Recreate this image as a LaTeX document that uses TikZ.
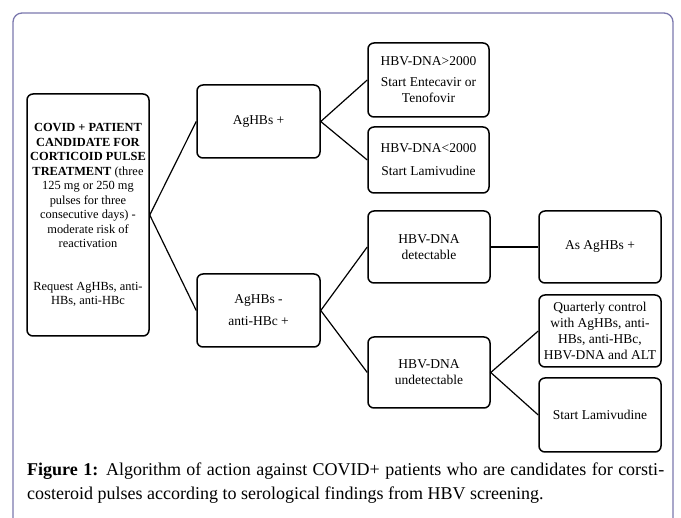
\documentclass[tikz,border=0pt]{standalone}
\usepackage{fontspec}
\setmainfont{Liberation Serif}
\definecolor{framecol}{HTML}{7B78AE}
\begin{document}
\begin{tikzpicture}[x=1pt,y=-1pt,
  box/.style={draw=black, line width=1.5pt, rounded corners=6pt, align=center, inner sep=1pt, font=\fontsize{13.5}{16}\selectfont},
  conn/.style={draw=black, line width=1.2pt},
  frame/.style={draw=framecol, line width=1.3pt, rounded corners=9pt},
  captext/.style={anchor=base west, inner sep=0pt, font=\fontsize{18}{24}\selectfont}]
\useasboundingbox (0,0) rectangle (681,518);
\fill[white] (0,0) rectangle (681,518);
\draw[frame] (13,518) -- (13,13) -- (673,13) -- (673,518);

\node[box, minimum width=122pt, minimum height=242pt, font=\fontsize{12.4}{14.5}\selectfont] (main) at (88,215)
 {\textbf{COVID + PATIENT}\\ \textbf{CANDIDATE FOR}\\ \textbf{CORTICOID PULSE}\\ \textbf{TREATMENT} (three\\ 125 mg or 250 mg\\ pulses for three\\ consecutive days) -\\ moderate risk of\\ reactivation\\[28pt] Request AgHBs, anti-\\ HBs, anti-HBc};

\node[box, minimum width=123pt, minimum height=73pt] (pos) at (258.5,121.5) {AgHBs +};
\node[box, minimum width=123pt, minimum height=73pt] (neg) at (258.5,310.5) {AgHBs -\\[6pt] anti-HBc +};

\node[box, minimum width=121pt, minimum height=74pt] (hi) at (428.5,80) {HBV-DNA>2000\\[5pt] Start Entecavir or\\ Tenofovir};
\node[box, minimum width=121pt, minimum height=66pt] (lo) at (428.5,160) {HBV-DNA<2000\\[7pt] Start Lamivudine};

\node[box, minimum width=122pt, minimum height=72pt] (det) at (429,247) {HBV-DNA\\ detectable};
\node[box, minimum width=122pt, minimum height=71pt] (undet) at (429,372.5) {HBV-DNA\\ undetectable};

\node[box, minimum width=122pt, minimum height=72pt] (as) at (600,247) {As AgHBs +};
\node[box, minimum width=122pt, minimum height=72pt] (quart) at (600,331) {Quarterly control\\ with AgHBs, anti-\\ HBs, anti-HBc,\\ HBV-DNA and ALT};
\node[box, minimum width=122pt, minimum height=74pt] (lam) at (600,415) {Start Lamivudine};

\draw[conn] (pos.west) -- (main.east) -- (neg.west);
\draw[conn] (hi.west) -- (pos.east) -- (lo.west);
\draw[conn] (det.west) -- (neg.east) -- (undet.west);
\draw[conn] (det.east) -- (as.west);
\draw[conn] (quart.west) -- (undet.east) -- (lam.west);

\node[captext] (cap1) at (27,476) {\makebox[637pt][s]{\textbf{Figure 1:} Algorithm of action against COVID+ patients who are candidates for corsti-}};
\node[captext] (cap2) at (27,500) {costeroid pulses according to serological findings from HBV screening.};
\end{tikzpicture}
\end{document}
